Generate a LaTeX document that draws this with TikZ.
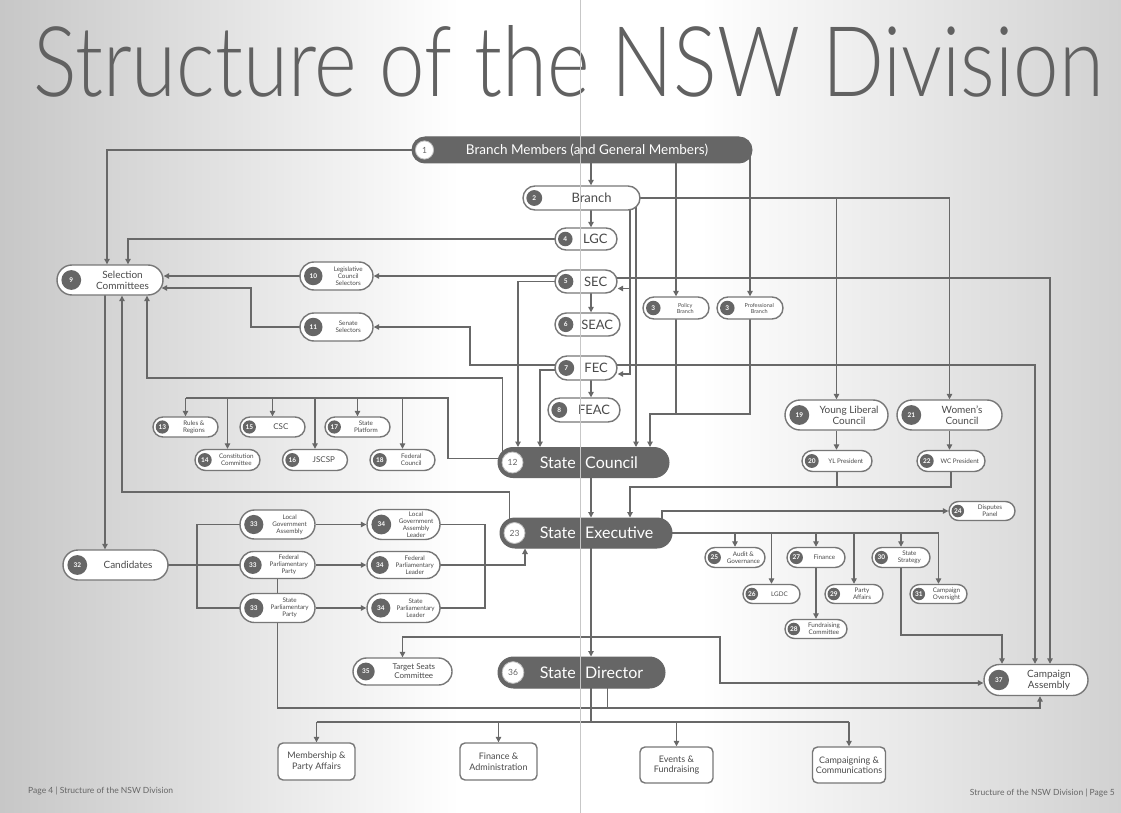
\documentclass[tikz,border=0pt]{standalone}
\usepackage{fontspec}
\setmainfont{Lato}
\newfontfamily\titlefont{Lato Light}
\usetikzlibrary{shapes.misc,arrows.meta,calc}
\pgfdeclarelayer{bgl}
\pgfdeclarelayer{edges}
\pgfdeclarelayer{fgl}
\pgfsetlayers{bgl,edges,main,fgl}
\definecolor{lc}{HTML}{686868}
\definecolor{dk}{HTML}{666666}
\definecolor{tc}{HTML}{4A4A4A}
\definecolor{bd}{HTML}{777777}
\tikzset{
 pill/.style={rounded rectangle, draw=bd, line width=1.4pt, fill=white, inner sep=0pt},
 dpill/.style={rounded rectangle, draw=dk, fill=dk, line width=1pt, inner sep=0pt},
 numc/.style={circle, fill=dk, text=white, inner sep=0pt, font=\fontsize{6.5}{6.5}\selectfont\bfseries},
 dnumc/.style={circle, fill=white, draw=black!25, line width=0.8pt, text=dk, inner sep=0pt, font=\fontsize{8.5}{8.5}\selectfont},
 ptext/.style={align=center, text=tc, inner sep=0pt},
 wtext/.style={text=white, inner sep=0pt},
 con/.style={draw=lc, line width=1.2pt},
 arr/.style={con, -{Triangle[length=5.5pt,width=5.5pt]}},
 obox/.style={rectangle, rounded corners=5pt, draw=bd, line width=1.4pt, fill=white, align=center, text=tc, font=\fontsize{9}{10.5}\selectfont, minimum height=37pt, minimum width=77pt, inner sep=1pt},
 fA/.style={font=\fontsize{5.5}{6}\selectfont},
 fB/.style={font=\fontsize{6.3}{6.9}\selectfont},
 fC/.style={font=\fontsize{8}{9}\selectfont},
 fD/.style={font=\fontsize{10}{11}\selectfont},
 fE/.style={font=\fontsize{13}{14}\selectfont},
 fF/.style={font=\fontsize{16}{17}\selectfont},
 foot/.style={text=black!60, font=\fontsize{8.5}{8.5}\selectfont, inner sep=0pt},
}
\newcommand\PN[8]{%
 \node[pill, minimum width=#4pt, minimum height=#5pt] (#1) at (#2,#3) {};
 \node[numc, minimum size={0.66*#5}] (#1n) at ([xshift={#5/2}]#1.west) {#6};
 \node[ptext, #7] (#1t) at ($(#1n.east)!0.5!(#1.east)$) {#8};
}
\newcommand\DN[6]{%
 \node[dpill, minimum width=#4pt, minimum height=#5pt] (#1) at (#2,#3) {};
 \node[dnumc, minimum size={0.7*#5}] (#1n) at ([xshift={#5/2}]#1.west) {#6};
}
\begin{document}
\begin{tikzpicture}[x=1pt,y=-1pt]
\useasboundingbox (0,0) rectangle (1121,813);
\begin{pgfonlayer}{bgl}
 \shade[left color=black!22, right color=white] (0,0) rectangle (460,813);
 \fill[white] (460,0) rectangle (700,813);
 \shade[left color=white, right color=black!18] (700,0) rectangle (1121,813);
\end{pgfonlayer}

% title
\node[anchor=south west, inner sep=0pt, text=black!62] (title) at (33,97)
 {\resizebox{1070pt}{71pt}{\titlefont Structure of the NSW Division}};

% dark nodes
\DN{n1}{582}{150}{340}{26}{1}
\node[wtext, font=\fontsize{13.5}{14}\selectfont] (n1t) at (587,150) {Branch Members (and General Members)};
\DN{n12}{583.5}{462.5}{171}{30}{12}
\node[wtext, fF, anchor=east] (n12a) at (576,462.5) {State};
\node[wtext, fF, anchor=west] (n12b) at (585,462.5) {Council};
\DN{n23}{586}{533}{172}{30}{23}
\node[wtext, fF, anchor=east] (n23a) at (576,533) {State};
\node[wtext, fF, anchor=west] (n23b) at (585,533) {Executive};
\DN{n36}{581.5}{672.5}{167}{31}{36}
\node[wtext, fF, anchor=east] (n36a) at (576,672.5) {State};
\node[wtext, fF, anchor=west] (n36b) at (585,672.5) {Director};

% central column
\PN{n2}{581.5}{198}{117}{24}{2}{fE}{Branch}
\PN{n4}{586}{239}{62}{22}{4}{fE}{LGC}
\PN{n5}{586}{281.5}{62}{23}{5}{fE}{SEC}
\PN{n6}{587.5}{324.5}{65}{23}{6}{fE}{SEAC}
\PN{n7}{586}{368}{62}{24}{7}{fE}{FEC}
\PN{n8}{584}{410}{72}{24}{8}{fE}{FEAC}
\PN{n3a}{676}{308}{66}{22}{3}{fA}{Policy\\Branch}
\PN{n3b}{750}{308}{66}{22}{3}{fA}{Professional\\Branch}

% left upper
\PN{n9}{110}{280}{106}{30}{9}{fD}{Selection\\Committees}
\PN{n10}{336.5}{276}{73}{28}{10}{fB}{Legislative\\Council\\Selectors}
\PN{n11}{336.5}{327}{73}{28}{11}{fB}{Senate\\Selectors}

% state council committees
\PN{n13}{185.5}{427}{65}{20}{13}{fB}{Rules \&\\Regions}
\PN{n14}{227.5}{460}{65}{21}{14}{fB}{Constitution\\Committee}
\PN{n15}{272.5}{427}{65}{20}{15}{fC}{CSC}
\PN{n16}{315}{460}{65}{21}{16}{fC}{JSCSP}
\PN{n17}{357.5}{427}{65}{20}{17}{fB}{State\\Platform}
\PN{n18}{402.5}{460}{65}{21}{18}{fB}{Federal\\Council}

% youth and women
\PN{n19}{836.5}{415}{103}{30}{19}{fD}{Young Liberal\\Council}
\PN{n21}{949.5}{415}{105}{30}{21}{fD}{Women's\\Council}
\PN{n20}{837}{461}{70}{21}{20}{fB}{YL President}
\PN{n22}{951}{461}{68}{21}{22}{fB}{WC President}

% executive committees
\PN{n24}{982}{511}{66}{19}{24}{fB}{Disputes\\Panel}
\PN{n25}{735}{557.5}{60}{20}{25}{fB}{Audit \&\\Governance}
\PN{n26}{771.5}{594}{57}{19}{26}{fB}{LGDC}
\PN{n27}{816}{557.5}{58}{20}{27}{fB}{Finance}
\PN{n28}{816}{629}{62}{19}{28}{fB}{Fundraising\\Committee}
\PN{n29}{854}{594}{58}{19}{29}{fB}{Party\\Affairs}
\PN{n30}{901}{557.5}{58}{20}{30}{fB}{State\\Strategy}
\PN{n31}{938.5}{594}{57}{19}{31}{fB}{Campaign\\Oversight}

% candidates
\PN{n32}{115.5}{565}{105}{30}{32}{fD}{Candidates}
\PN{n33a}{277.5}{524.5}{75}{29}{33}{fB}{Local\\Government\\Assembly}
\PN{n33b}{277.5}{565}{75}{27}{33}{fB}{Federal\\Parliamentary\\Party}
\PN{n33c}{277.5}{608}{75}{29}{33}{fB}{State\\Parliamentary\\Party}
\PN{n34a}{403.5}{524.5}{73}{30}{34}{fB}{Local\\Government\\Assembly\\Leader}
\PN{n34b}{403.5}{565}{73}{27}{34}{fB}{Federal\\Parliamentary\\Leader}
\PN{n34c}{403.5}{608}{73}{29}{34}{fB}{State\\Parliamentary\\Leader}
\PN{n35}{402.5}{671.5}{99}{27}{35}{fC}{Target Seats\\Committee}
\PN{n37}{1036}{680}{104}{31}{37}{fD}{Campaign\\Assembly}

% bottom boxes
\node[obox] (b1) at (316.5,761.5) {Membership \&\\Party Affairs};
\node[obox] (b2) at (498.5,761.5) {Finance \&\\Administration};
\node[obox, minimum width=73pt, minimum height=36pt] (b3) at (676.5,765) {Events \&\\Fundraising};
\node[obox, minimum width=73pt, minimum height=36pt] (b4) at (849,765) {Campaigning \&\\Communications};

% footers
\node[foot, anchor=west] (fl) at (28,791) {Page 4 | Structure of the NSW Division};
\node[foot, anchor=east] (fr) at (1115,793) {Structure of the NSW Division | Page 5};

% helper coordinates
\coordinate (vC) at (591,0);
\coordinate (vA) at (630,0);
\coordinate (vB) at (636,0);
\coordinate (vS) at (518,0);
\coordinate (vF) at (540,0);
\coordinate (vSen) at (470,0);
\coordinate (vSS) at (251,0);
\coordinate (vL) at (525,0);
\coordinate (cbx) at (197,0);
\coordinate (lbx) at (485,0);
\coordinate (c720) at (720,0);
\coordinate (dpx) at (662,0);
\coordinate (hPB) at (650,414);
\coordinate (tSC) at (147,378);
\coordinate (tSE) at (122,492);
\coordinate (cb) at (448,398);
\coordinate (yb) at (0,708);
\coordinate (jE) at (591,637);
\coordinate (yBus) at (0,722);
\coordinate (yYP) at (630,487);
\coordinate (ySS) at (1002,635);
\coordinate (tSen) at ([xshift=-2,yshift=-8]n9.east);
\coordinate (tCA) at ([yshift=-3]n37.west);

\begin{pgfonlayer}{edges}
 \draw[arr] (n1.center) -| ([xshift=-3]n9.north);
 \draw[arr] (n4.center) -| ([xshift=18]n9.north);
 \draw[arr] (n1.center -| vC) -- (n2.north -| vC);
 \draw[arr] (n2.center -| vC) -- (n4.north -| vC);
 \draw[arr] (n5.center -| vC) -- (n6.north -| vC);
 \draw[arr] (n7.center -| vC) -- (n8.north -| vC);
 \draw[arr] (n1.center -| n3a.north) -- (n3a.north);
 \draw[arr] (n1.center -| n3b.north) -- (n3b.north);
 \draw[arr] (n2.center) -| (n19.north);
 \draw[arr] (n2.center) -| (n21.north);
 \draw[arr] (n2.center -| vA) |- ([yshift=-7]n5.east);
 \draw[arr] (n2.center -| vA) |- ([yshift=-6]n7.east);
 \draw[arr] (n2.center -| vB) -- (n12.north -| vB);
 \draw[arr] (n3b.center) |- (hPB) -- (hPB |- n12.north);
 \draw[con] (n3a.center) -- (n3a.center |- hPB);
 \draw[arr] (n5.center |- n10.east) -- (n10.east);
 \draw[arr] (n5.center) -| (n12.north -| vS);
 \draw[arr] ([yshift=3]n7.center) -| (vSen |- n11.east) -- (n11.east);
 \draw[arr] ([yshift=-2]n7.center) -| (n12.north -| vF);
 \draw[arr] ([yshift=3.5]n5.center) -| ([xshift=14]n37.north);
 \draw[arr] ([yshift=3]n7.center) -| ([xshift=-1]n37.north);
 \draw[arr] (n10.center) -- (n9.east |- n10.center);
 \draw[arr] (n11.center) -| (vSS |- tSen) -- (tSen);
 \draw[arr] ([xshift=5]n12.west) |- (tSC) -- (tSC |- n9.south);
 \draw[con] ([yshift=4]n12.center) -| (cb) -- (cb -| n13.north);
 \foreach \m in {n13,n14,n15,n16,n17,n18} \draw[arr] (cb -| \m.north) -- (\m.north);
 \draw[arr] ([xshift=10]n23.west) |- (tSE) -- (tSE |- n9.south);
 \draw[arr] ([xshift=-5]n9.center) -- ([xshift=-5]n9.center |- n32.north);
 \draw[con] (n32.center) -- (n33b.center);
 \draw[con] (n33a.center) -| (cbx |- n33c.center) -- (n33c.center);
 \draw[arr] (n33a.east) -- (n34a.west);
 \draw[arr] (n33b.east) -- (n34b.west);
 \draw[arr] (n33c.east) -- (n34c.west);
 \draw[con] (n34a.center) -| (lbx |- n34c.center) -- (n34c.center);
 \draw[arr] (n34b.center) -| (n23.south -| vL);
 \draw[con] (n33b.center) -- (n33c.center);
 \draw[arr] (n33c.center) -- (n33c.center |- yb) -| ([xshift=4]n37.south);
 \draw[con] ([xshift=26]n36.center) -- ([xshift=26]n36.center |- yb);
 \draw[arr] (n12.center -| vC) -- (n23.north -| vC);
 \draw[arr] (n23.center -| vC) -- (n36.north -| vC);
 \draw[arr] (jE) -| (n35.north);
 \draw[arr] (jE) -| (c720 |- tCA) -- (tCA);
 \draw[con] (n36.center -| vC) -- (vC |- yBus);
 \draw[con] (b1.north |- yBus) -- (b4.north |- yBus);
 \foreach \b in {b1,b2,b3,b4} \draw[arr] (\b.north |- yBus) -- (\b.north);
 \draw[arr] (n19.south) -- (n19.south |- n20.north);
 \draw[arr] (n21.south) -- (n21.south |- n22.north);
 \draw[arr] (n22.center) |- (yYP) -- (yYP |- n23.north);
 \draw[con] (n20.center) -- (n20.center |- yYP);
 \draw[arr] (n23.center -| dpx) |- (n24.west);
 \draw[con] (n23.center) -- (n23.center -| n31.north);
 \foreach \m in {n25,n26,n27,n29,n30,n31} \draw[arr] (n23.center -| \m.north) -- (\m.north);
 \draw[arr] (n27.south) -- (n28.north);
 \draw[arr] (n30.center) |- (ySS) -- (ySS |- n37.north);
\end{pgfonlayer}

\begin{pgfonlayer}{fgl}
 \draw[black!22, line width=1pt] (580,0) -- (580,813);
\end{pgfonlayer}
\end{tikzpicture}
\end{document}
